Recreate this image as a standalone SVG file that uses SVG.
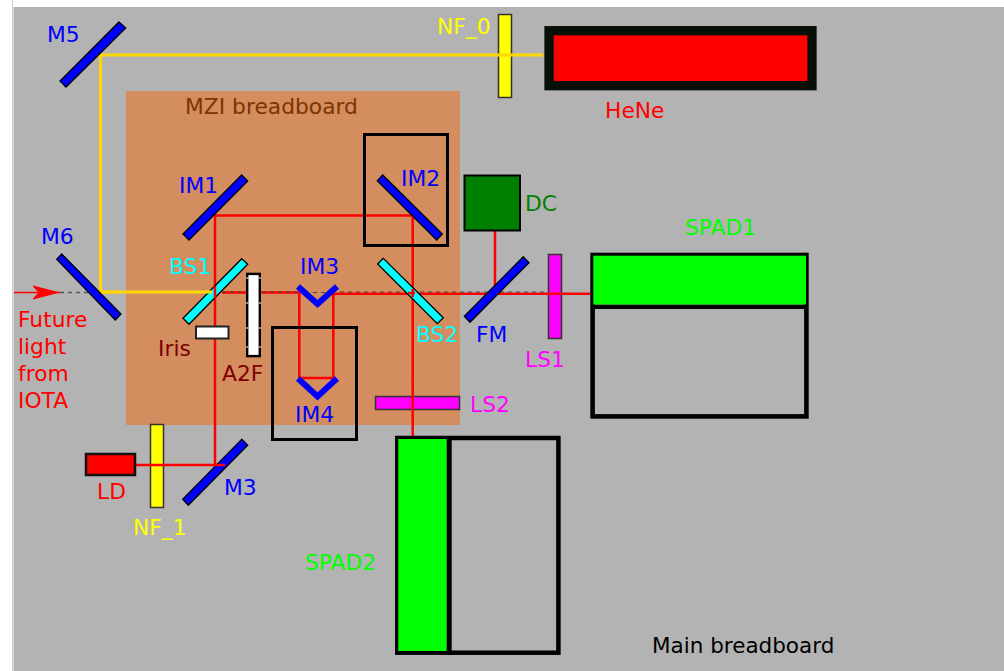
<svg xmlns="http://www.w3.org/2000/svg" width="1004" height="671" viewBox="0 0 1004 671">
<style>
text{font-family:"DejaVu Sans",Verdana,sans-serif;font-size:21.8px}
.m{fill:#0000ff;stroke:#000;stroke-width:1.300}
.b{fill:#00ffff;stroke:#000;stroke-width:1.300}
.box{fill:none;stroke:#000;stroke-width:3}
.r{stroke:#ff0000;stroke-width:2.500;fill:none}
.y{stroke:#ffd800;stroke-width:3;fill:none}
.f{stroke:#333;stroke-width:1.500}
.ch{fill:none;stroke:#0000ff;stroke-width:6}
</style>
<rect width="1004" height="671" fill="#fff"/>
<rect x="12" y="0" width="1" height="671" fill="#ccc"/>
<rect id="main" x="13.500" y="7" width="990.500" height="664" fill="#b3b3b3"/>
<rect id="mzi" x="126" y="91" width="334" height="334" fill="#d38d5f"/>
<g id="LS1"><rect class="f" x="548.500" y="254.500" width="13" height="84" fill="#ff00ff"/><text x="525" y="367" fill="#ff00ff">LS1</text></g>
<g id="LS2"><rect class="f" x="375.500" y="396.500" width="84" height="13" fill="#ff00ff"/><text x="470" y="412" fill="#ff00ff">LS2</text></g>
<g id="NF_0"><rect class="f" x="498.500" y="14.500" width="13" height="83" fill="#ffff00"/><text x="437" y="34" fill="#ffff00">NF_0</text></g>
<g id="NF_1"><rect class="f" x="150.500" y="424.500" width="13" height="83" fill="#ffff00"/><text x="133" y="535" fill="#ffff00">NF_1</text></g>
<g id="connectors">
<path class="y" d="M543 55H100.500V292H212"/>
<path d="M14 292.500H60" stroke="#ff0000" stroke-width="1.500" fill="none"/>
<path d="M33 286L58 292.500L33 299L39 292.500Z" fill="#ff0000" stroke="#ff0000"/>
<path d="M60 292.500H100" stroke="#555" stroke-width="1.500" stroke-dasharray="4 4" fill="none"/>
<path class="r" d="M222 292.500H247M260 292.500H299.300V378H333.300V293.700H592M215 465V215.500H412.700V436M495 231V293.700M135 465H225"/>
<path d="M222 292H299M305 292.500H327M340 292H548" stroke="#444" stroke-width="1" stroke-dasharray="4 4" fill="none"/>
</g>
<g id="M5"><polygon class="m" points="119,22 125.700,28 66,87 60,81"/><text x="47" y="42" fill="#0000ff">M5</text></g>
<g id="M6"><polygon class="m" points="61.700,254 56.700,259.300 115.300,320 121,314"/><path d="M101 292H118" class="y"/><text x="41" y="244" fill="#0000ff">M6</text></g>
<g id="IM1"><polygon class="m" points="241.700,175 247.700,181 189,240 183,234"/><text x="179" y="193" fill="#0000ff">IM1</text></g>
<g id="IM2"><rect class="box" x="364.500" y="134.500" width="83" height="111"/><polygon class="m" points="382.700,175 377.300,180.700 436.700,240 442.300,234"/><text x="401" y="186" fill="#0000ff">IM2</text></g>
<g id="BS1"><polygon class="b" points="241.700,258.700 247.700,264.300 189,324.300 183,318.300"/><path d="M205 292H212" class="y"/><path d="M215 286V298" class="r"/><text x="169" y="274" fill="#00ffff">BS1</text></g>
<g id="BS2"><polygon class="b" points="383.300,258.300 377.700,264 437.300,323.700 443.300,317.700"/><path d="M412.700 289V297M408 293H415" class="r"/><text x="416" y="342" fill="#00ffff">BS2</text></g>
<g id="IM3"><path class="ch" d="M298 286.500L317.500 304L337 286.500"/><text x="300" y="274" fill="#0000ff">IM3</text></g>
<g id="IM4"><rect class="box" x="272.500" y="327.500" width="84" height="112"/><path class="ch" d="M298 378.500L317.500 396.500L337 378.500"/><text x="295" y="422" fill="#0000ff">IM4</text></g>
<g id="Iris"><rect x="196" y="326.500" width="32.500" height="12" fill="#fff" stroke="#222" stroke-width="2"/><text x="158" y="356" fill="#800000">Iris</text></g>
<g id="A2F"><rect x="247.200" y="273.900" width="12.600" height="82.200" fill="#fff" stroke="#000" stroke-width="2.400"/><path d="M246 278H248.400M246 303H248.400M246 328H248.400M246 347H248.400M258.600 278H261M258.600 303H261M258.600 328H261M258.600 347H261" stroke="#fff" stroke-width="1.200"/><text x="222" y="381" fill="#800000">A2F</text></g>
<g id="FM"><polygon class="m" points="523.300,256.700 529,262.700 470,322.300 464.300,316.300"/><text x="476" y="342" fill="#0000ff">FM</text></g>
<g id="M3"><polygon class="m" points="241.700,439.300 247.700,445.300 188.300,505.300 182.700,499.300"/><path d="M215 465H225" class="r"/><text x="224" y="495" fill="#0000ff">M3</text></g>
<g id="DC"><rect x="464.500" y="175.500" width="55.500" height="55" fill="#008000" stroke="#000" stroke-width="2"/><text x="525" y="211" fill="#008000">DC</text></g>
<g id="LD"><rect x="86" y="454" width="49" height="21" fill="#ff0000" stroke="#111" stroke-width="2.500"/><text x="97" y="499" fill="#ff0000">LD</text></g>
<g id="HeNe"><rect x="549" y="30.700" width="263" height="55" fill="#ff0000" stroke="#071007" stroke-width="9.300"/><text x="605" y="117.500" fill="#ff0000">HeNe</text></g>
<g id="SPAD1"><rect x="592.600" y="255" width="213.800" height="161.400" fill="none" stroke="#000" stroke-width="4.600"/><rect x="593.300" y="255.700" width="212.700" height="49" fill="#00ff00"/><rect x="591" y="304.700" width="217" height="4.300" fill="#000"/><text x="685" y="235" fill="#00ff00">SPAD1</text></g>
<g id="SPAD2"><rect x="397.300" y="438" width="161.100" height="214.700" fill="none" stroke="#000" stroke-width="4.500"/><rect x="398.300" y="439" width="48.400" height="212" fill="#00ff00"/><rect x="446.700" y="436" width="5" height="219" fill="#000"/><text x="305" y="570" fill="#00ff00">SPAD2</text></g>
<text x="185" y="114" fill="#803300">MZI breadboard</text>
<g fill="#ff0000"><text x="18" y="327">Future</text><text x="18" y="354">light</text><text x="18" y="381">from</text><text x="18" y="408">IOTA</text></g>
<text x="652" y="653" fill="#000" style="font-size:21.500px">Main breadboard</text>
</svg>
